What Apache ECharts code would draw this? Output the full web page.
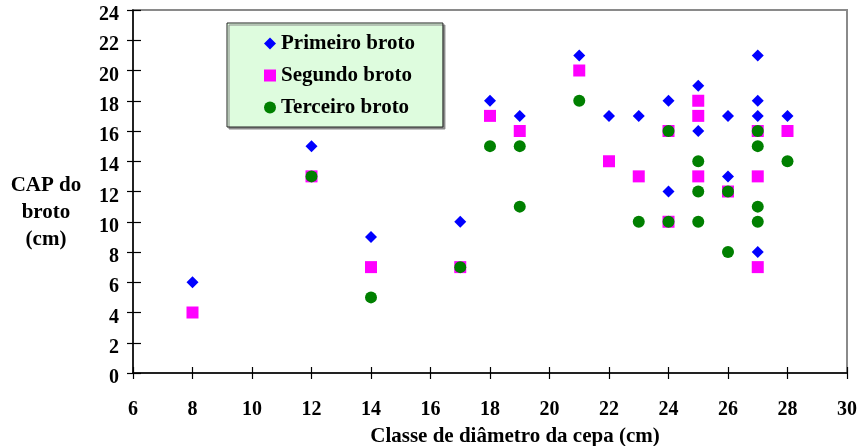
<!DOCTYPE html>
<html>
<head>
<meta charset="utf-8">
<script src="https://cdn.jsdelivr.net/npm/echarts@6/dist/echarts.min.js"></script>
<style>
  html, body { margin: 0; padding: 0; background: #fff; }
  #chart { width: 860px; height: 446px; }
</style>
</head>
<body>
<div id="chart"></div>
<script>
// Sprout girth (CAP) by stump diameter class, one series per sprout
const seriesNames = ['Primeiro broto', 'Segundo broto', 'Terceiro broto'];

// [stump diameter class (cm), CAP (cm)]
const primeiroBroto = [
  [8, 6], [12, 15], [14, 9], [17, 10], [18, 18], [19, 17], [21, 21], [22, 17],
  [23, 17], [24, 18], [24, 12], [25, 19], [25, 16], [26, 17], [26, 13],
  [27, 21], [27, 18], [27, 17], [27, 8], [28, 17]
];
const segundoBroto = [
  [8, 4], [12, 13], [14, 7], [17, 7], [18, 17], [19, 16], [21, 20], [22, 14],
  [23, 13], [24, 16], [24, 10], [25, 18], [25, 17], [25, 13], [26, 12],
  [27, 16], [27, 13], [27, 7], [28, 16]
];
const terceiroBroto = [
  [12, 13], [14, 5], [17, 7], [18, 15], [19, 15], [19, 11], [21, 18],
  [23, 10], [24, 16], [24, 10], [25, 14], [25, 12], [25, 10], [26, 12],
  [26, 8], [27, 16], [27, 15], [27, 11], [27, 10], [28, 14]
];

const xTicks = { min: 6, max: 30, interval: 2 };
const yTicks = { min: 0, max: 24, interval: 2 };

const xTitle = 'Classe de diâmetro da cepa (cm)';
const yTitle = 'CAP do\nbroto\n(cm)';

const font = '"Liberation Serif", "Times New Roman", serif';

const chart = echarts.init(document.getElementById('chart'), null, { renderer: 'canvas' });

const axisLineStyle = { color: '#000', width: 1.5 };

chart.setOption({
  animation: false,
  backgroundColor: '#fff',
  grid: {
    left: 133, right: 13, top: 10, bottom: 73,
    containLabel: false,
    outerBoundsMode: 'none',
    show: true, borderColor: '#8a8a8a', borderWidth: 2, backgroundColor: 'transparent'
  },
  // vertical axis title sits to the left of the axis, slightly below centre
  graphic: [{
    type: 'text',
    left: 8, top: 172,
    style: {
      text: yTitle,
      font: 'bold 21px ' + font,
      fill: '#000',
      textAlign: 'center',
      lineHeight: 27,
      width: 76
    }
  }],
  legend: {
    orient: 'vertical',
    left: 227, top: 23,
    padding: [10, 28, 9, 37],
    itemGap: 11,
    itemWidth: 12, itemHeight: 12,
    backgroundColor: '#DEFCDE',
    borderColor: '#222', borderWidth: 1,
    shadowColor: '#8a8a8a', shadowOffsetX: 2, shadowOffsetY: 2, shadowBlur: 0,
    textStyle: { fontFamily: font, fontWeight: 'bold', fontSize: 21, color: '#000' },
    data: [
      { name: seriesNames[0], icon: 'diamond' },
      { name: seriesNames[1], icon: 'rect' },
      { name: seriesNames[2], icon: 'circle' }
    ]
  },
  xAxis: [
    {
      type: 'value', min: xTicks.min, max: xTicks.max, interval: xTicks.interval,
      name: xTitle,
      nameLocation: 'middle', nameGap: 53,
      nameTextStyle: { fontFamily: font, fontWeight: 'bold', fontSize: 21, color: '#000', padding: [0, 0, 0, 50] },
      axisLine: { show: true, onZero: false, lineStyle: axisLineStyle },
      axisTick: { show: true, inside: false, length: 6, lineStyle: { color: '#000', width: 1.2 } },
      axisLabel: { fontFamily: font, fontWeight: 'bold', fontSize: 20, color: '#000', margin: 27 },
      splitLine: { show: false }
    },
    {
      type: 'value', min: xTicks.min, max: xTicks.max, interval: xTicks.interval,
      position: 'bottom', offset: 0,
      axisLine: { show: false },
      axisTick: { show: true, inside: true, length: 6, lineStyle: { color: '#000', width: 1.2 } },
      axisLabel: { show: false },
      splitLine: { show: false }
    }
  ],
  yAxis: [
    {
      type: 'value', min: yTicks.min, max: yTicks.max, interval: yTicks.interval,
      axisLine: { show: true, onZero: false, lineStyle: axisLineStyle },
      axisTick: { show: true, inside: false, length: 6, lineStyle: { color: '#000', width: 1.2 } },
      axisLabel: {
        fontFamily: font, fontWeight: 'bold', fontSize: 20, color: '#000', margin: 14,
        verticalAlign: 'top', lineHeight: 10
      },
      splitLine: { show: false }
    },
    {
      type: 'value', min: yTicks.min, max: yTicks.max, interval: yTicks.interval,
      position: 'left', offset: 0,
      axisLine: { show: false },
      axisTick: { show: true, inside: true, length: 8, lineStyle: { color: '#000', width: 1.2 } },
      axisLabel: { show: false },
      splitLine: { show: false }
    }
  ],
  series: [
    {
      name: seriesNames[0], type: 'scatter', data: primeiroBroto,
      symbol: 'diamond', symbolSize: 12,
      itemStyle: { color: '#0000FF', opacity: 1 }, z: 2
    },
    {
      name: seriesNames[1], type: 'scatter', data: segundoBroto,
      symbol: 'rect', symbolSize: 12,
      itemStyle: { color: '#FF00FF', opacity: 1 }, z: 3
    },
    {
      name: seriesNames[2], type: 'scatter', data: terceiroBroto,
      symbol: 'circle', symbolSize: 12,
      itemStyle: { color: '#008000', opacity: 1 }, z: 4
    }
  ]
});
</script>
</body>
</html>
